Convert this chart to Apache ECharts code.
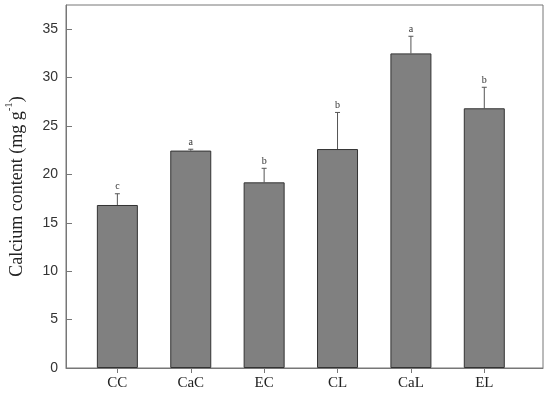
<!DOCTYPE html>
<html><head><meta charset="utf-8">
<script src="https://cdn.jsdelivr.net/npm/echarts@6/dist/echarts.min.js"></script>
<style>html,body{margin:0;padding:0;background:#fff}#c{width:550px;height:396px}</style>
</head><body><div id="c"></div>
<script>
var categories = ['CC', 'CaC', 'EC', 'CL', 'CaL', 'EL'];
var means = [16.84, 22.46, 19.18, 22.62, 32.5, 26.83];
var upper = [18.0, 22.6, 20.63, 26.4, 34.27, 29.0];
var letters = ['c', 'a', 'b', 'b', 'a', 'b'];
var yTicks = [0, 5, 10, 15, 20, 25, 30, 35];

var positions = categories.map(function (c, i) { return i + 1; });
var barData = means.map(function (v, i) { return [positions[i], v]; });
var errData = means.map(function (v, i) { return [positions[i], v, upper[i], letters[i]]; });

var chart = echarts.init(document.getElementById('c'));
chart.setOption({
  animation: false,
  grid: { left: 66, right: 7, top: 5, bottom: 28, outerBoundsMode: 'none', containLabel: false, show: true, borderColor: '#777', borderWidth: 1 },
  xAxis: {
    type: 'value', min: 0.3, max: 6.8,
    splitLine: { show: false },
    axisLine: { show: true, lineStyle: { color: '#777' } },
    axisTick: { show: true, length: 5, lineStyle: { color: '#777' }, customValues: positions },
    axisLabel: {
      customValues: positions,
      formatter: function (v) { return categories[Math.round(v) - 1] || ''; },
      fontFamily: 'Liberation Serif', fontSize: 15, color: '#222', margin: 8
    }
  },
  yAxis: {
    type: 'value', min: 0, max: 37.5,
    splitLine: { show: false },
    axisLine: { show: true, lineStyle: { color: '#777' } },
    axisTick: { show: true, inside: true, length: 6, lineStyle: { color: '#777' }, customValues: yTicks },
    axisLabel: { customValues: yTicks, fontFamily: 'Liberation Sans', fontSize: 14, color: '#333', margin: 8 },
    name: '{m|Calcium content (mg g}{s|-1}{m|)}',
    nameLocation: 'middle', nameGap: 40,
    nameTextStyle: {
      rich: {
        m: { fontFamily: 'Liberation Serif', fontSize: 18, color: '#222', lineHeight: 22, verticalAlign: 'bottom' },
        s: { fontFamily: 'Liberation Serif', fontSize: 11, color: '#222', lineHeight: 22, verticalAlign: 'top' }
      }
    }
  },
  series: [
    {
      type: 'bar', data: barData, barWidth: 41,
      itemStyle: { color: '#808080', borderColor: '#333', borderWidth: 1 }
    },
    {
      type: 'custom', data: errData,
      renderItem: function (params, api) {
        var x = api.value(0);
        var base = api.coord([x, api.value(1)]);
        var top = api.coord([x, api.value(2)]);
        var s = { stroke: '#555', lineWidth: 1 };
        return {
          type: 'group', children: [
            { type: 'line', shape: { x1: base[0], y1: base[1], x2: top[0], y2: top[1] }, style: s },
            { type: 'line', shape: { x1: top[0] - 2.5, y1: top[1], x2: top[0] + 2.5, y2: top[1] }, style: s },
            { type: 'text', style: { text: api.value(3), x: top[0], y: top[1] - 2, align: 'center', verticalAlign: 'bottom', fontFamily: 'Liberation Serif', fontSize: 10, fill: '#333' } }
          ]
        };
      }
    }
  ]
});
</script></body></html>
